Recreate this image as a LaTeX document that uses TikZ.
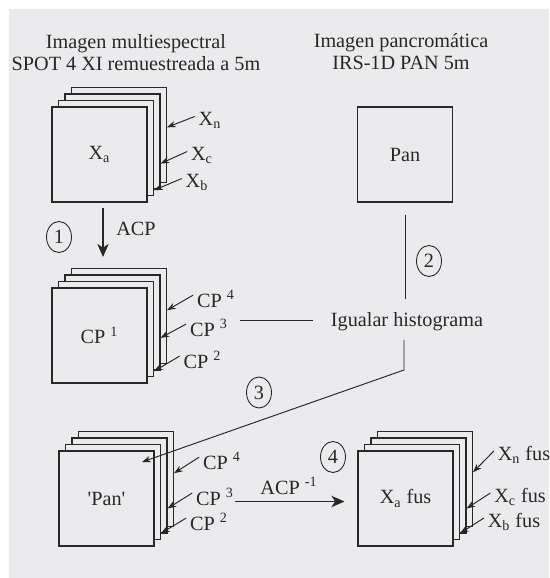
\documentclass[tikz,border=0pt]{standalone}
\usepackage{fontspec}
\setmainfont{Liberation Serif}
\usetikzlibrary{arrows.meta,calc,shapes.geometric}
\definecolor{panel}{RGB}{235,235,237}
\definecolor{ink}{RGB}{40,40,40}

\begin{document}
\begin{tikzpicture}[x=0.02cm, y=-0.02cm, color=ink, line width=0.55pt,
            every node/.style={font=\fontsize{11.5}{12.5}\selectfont},
            layer/.style={draw, fill=panel, line width=0.6pt, minimum size=1.9cm, inner sep=0pt},
            band/.style={inner sep=2pt, anchor=base},
            ptr/.style={-{Stealth[length=5pt,width=3.6pt]}},
            bigptr/.style={line width=0.6pt, -{Stealth[length=7.5pt,width=6.5pt,inset=2.2pt]}},
            stepno/.style={draw, ellipse, line width=0.5pt, minimum width=0.5cm, minimum height=0.62cm, inner sep=0pt}]

            % Background
            \useasboundingbox (0,0) rectangle (549,578);
            \fill[panel] (9,9) rectangle (549,578);

            % Titles
            \node[align=center, inner sep=0pt] (title_ms) at (136,53) {Imagen multiespectral\\SPOT 4 XI remuestreada a 5m};
            \node[align=center, inner sep=0pt] (title_pan) at (401,52) {Imagen pancromática\\IRS-1D PAN 5m};

            % Multispectral bands
            \node[layer] (Xa_3) at (119,135) {};
            \node[layer] (Xa_2) at (112.5,141.5) {};
            \node[layer] (Xa_1) at (106,148) {};
            \node[layer] (Xa) at (99.5,154.5) {X\textsubscript{a}};

            \node[band] (lbl_Xn) at (210,125) {X\textsubscript{n}};
            \node[band] (lbl_Xc) at (202,160) {X\textsubscript{c}};
            \node[band] (lbl_Xb) at (197,187) {X\textsubscript{b}};
            \coordinate (tip_Xn) at ($(Xa_3.north east)!0.42!(Xa_3.south east)$);
            \coordinate (tip_Xc) at ($(Xa_2.north east)!0.73!(Xa_2.south east)$);
            \coordinate (tip_Xb) at ($(Xa_1.north east)!0.94!(Xa_1.south east)$);
            \draw[ptr] ([yshift=2pt]lbl_Xn.west) -- (tip_Xn);
            \draw[ptr] ([yshift=2pt]lbl_Xc.west) -- (tip_Xc);
            \draw[ptr] ([yshift=2pt]lbl_Xb.west) -- (tip_Xb);

            % Panchromatic image
            \node[layer] (Pan) at (405,154.5) {Pan};

            % Principal components
            \node[layer] (CP_3) at (119,316) {};
            \node[layer] (CP_2) at (112.5,322.5) {};
            \node[layer] (CP_1) at (106,329) {};
            \node[layer] (CP) at (99.5,335.5) {CP \textsuperscript{1}};

            \node[band] (lbl_CP4) at (216,307) {CP \textsuperscript{4}};
            \node[band] (lbl_CP3) at (209,336) {CP \textsuperscript{3}};
            \node[band] (lbl_CP2) at (202.5,368) {CP \textsuperscript{2}};
            \coordinate (tip_CP4) at ($(CP_3.north east)!0.44!(CP_3.south east)$);
            \coordinate (tip_CP3) at ($(CP_2.north east)!0.66!(CP_2.south east)$);
            \coordinate (tip_CP2) at ($(CP_1.north east)!0.94!(CP_1.south east)$);
            \draw[ptr] ([yshift=2pt]lbl_CP4.west) -- (tip_CP4);
            \draw[ptr] ([yshift=2pt]lbl_CP3.west) -- (tip_CP3);
            \draw[ptr] ([yshift=2pt]lbl_CP2.west) -- (tip_CP2);

            \node[inner xsep=10pt, inner ysep=5pt] (igualar) at (407,321.3) {Igualar histograma};

            % Components with matched Pan
            \node[layer] (PanCP_3) at (126,479) {};
            \node[layer] (PanCP_2) at (119.5,485.5) {};
            \node[layer] (PanCP_1) at (113,492) {};
            \node[layer] (PanCP) at (106.5,498.5) {\textquotesingle Pan\textquotesingle};

            \node[band] (lbl_PCP4) at (222,469) {CP \textsuperscript{4}};
            \node[band] (lbl_PCP3) at (215,505) {CP \textsuperscript{3}};
            \node[band] (lbl_PCP2) at (209,530) {CP \textsuperscript{2}};
            \coordinate (tip_PCP4) at ($(PanCP_3.north east)!0.44!(PanCP_3.south east)$);
            \coordinate (tip_PCP3) at ($(PanCP_2.north east)!0.74!(PanCP_2.south east)$);
            \coordinate (tip_PCP2) at ($(PanCP_1.north east)!0.93!(PanCP_1.south east)$);
            \draw[ptr] ([yshift=2pt]lbl_PCP4.west) -- (tip_PCP4);
            \draw[ptr] ([yshift=2pt]lbl_PCP3.west) -- (tip_PCP3);
            \draw[ptr] ([yshift=2pt]lbl_PCP2.west) -- (tip_PCP2);

            % Fused bands
            \node[layer] (Xf_3) at (425,479) {};
            \node[layer] (Xf_2) at (418.5,485.5) {};
            \node[layer] (Xf_1) at (412,492) {};
            \node[layer] (Xf) at (405.5,498.5) {X\textsubscript{a} fus};

            \node[band] (lbl_Xnf) at (524,460) {X\textsubscript{n} fus};
            \node[band] (lbl_Xcf) at (520,502) {X\textsubscript{c} fus};
            \node[band] (lbl_Xbf) at (514,527) {X\textsubscript{b} fus};
            \coordinate (tip_Xnf) at ($(Xf_3.north east)!0.43!(Xf_3.south east)$);
            \coordinate (tip_Xcf) at ($(Xf_2.north east)!0.74!(Xf_2.south east)$);
            \coordinate (tip_Xbf) at ($(Xf_1.north east)!0.93!(Xf_1.south east)$);
            \draw[ptr] ([yshift=2pt]lbl_Xnf.west) -- (tip_Xnf);
            \draw[ptr] ([yshift=2pt]lbl_Xcf.west) -- (tip_Xcf);
            \draw[ptr] ([yshift=2pt]lbl_Xbf.west) -- (tip_Xbf);

            % Draw steps
            \coordinate (acp_tip) at (103,257);
            \draw[bigptr, shorten <=0.1cm] (acp_tip |- Xa.south) -- (acp_tip);
            \node[band] (lbl_acp) at (136,235) {ACP};

            \draw[shorten <=0.24cm, shorten >=0.07cm] (Pan.south) -- (Pan.south |- igualar.north);

            \coordinate (cp_link) at (240,320);
            \draw (cp_link) -- (cp_link -| igualar.west);

            \coordinate (bend_3) at (404,370);
            \coordinate (pan_tip) at (142,462);
            \draw[ptr] (igualar.south -| bend_3) -- (bend_3) -- (pan_tip);

            \coordinate (inv_start) at (235,501.5);
            \draw[bigptr, shorten >=0.26cm] (inv_start) -- (inv_start -| Xf.west);
            \node[band] (lbl_inv) at (289,494) {ACP \textsuperscript{-1}};

            % Step numbers
            \node[stepno] (step_1) at (59,237) {1};
            \node[stepno] (step_2) at (429,261) {2};
            \node[stepno] (step_3) at (259,392.5) {3};
            \node[stepno] (step_4) at (333,457) {4};
        \end{tikzpicture}
\end{document}
